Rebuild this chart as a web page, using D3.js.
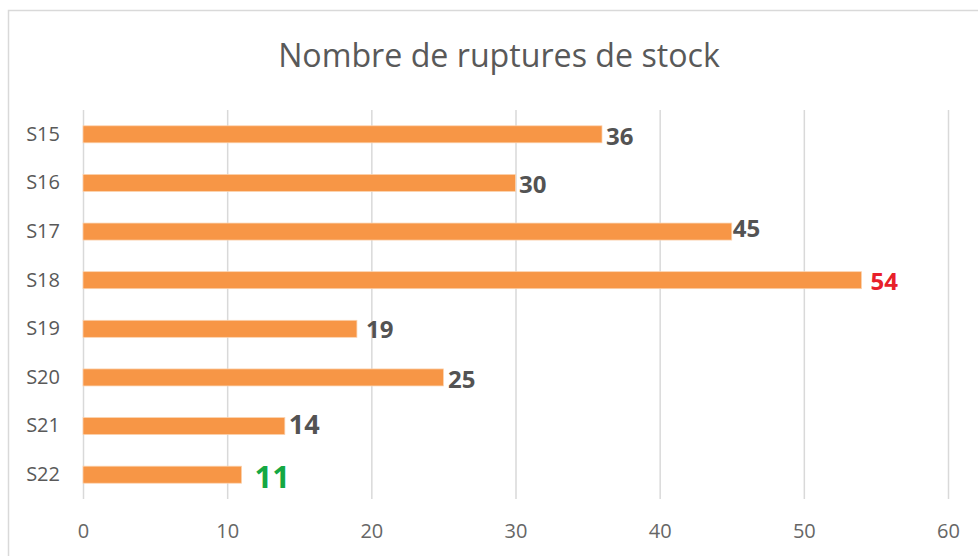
<!DOCTYPE html>
<html>
<head>
<meta charset="utf-8">
<script src="https://cdn.jsdelivr.net/npm/d3@7/dist/d3.min.js"></script>
<style>
  body { margin: 0; background: #fff; }
  svg { display: block; }
  svg text { font-family: 'Open Sans', sans-serif; }
  .grid line { stroke: #d9d9d9; stroke-width: 1.5; }
  .grid .domain { display: none; }
  .grid text { fill: #666; font-size: 20px; }
  .cats .domain, .cats line { display: none; }
  .cats text { fill: #595959; font-size: 20px; }
</style>
</head>
<body>
<svg id="chart" width="978" height="556"></svg>
<script>
// données
var weeks = ['S15', 'S16', 'S17', 'S18', 'S19', 'S20', 'S21', 'S22'];
var ruptures = [36, 30, 45, 54, 19, 25, 14, 11];
var xTicks = [0, 10, 20, 30, 40, 50, 60];
var title = 'Nombre de ruptures de stock';

// étiquettes placées à la main (comme dans Excel)
var labelStyle = {
  S15: { dx: 4, dy: 2, size: 24, color: '#535353' },
  S16: { dx: 3.5, dy: 1.5, size: 24, color: '#535353' },
  S17: { dx: 1, dy: -3.5, size: 24, color: '#535353' },
  S18: { dx: 9, dy: 1.5, size: 24, color: '#e8202a' },
  S19: { dx: 9, dy: 1, size: 24, color: '#535353' },
  S20: { dx: 4.5, dy: 2, size: 24, color: '#535353' },
  S21: { dx: 4, dy: -1.5, size: 27, color: '#535353' },
  S22: { dx: 13, dy: 2, size: 31, color: '#14a843' }
};

(function () {
  var svg = d3.select('#chart');
  var margins = { left: 83, right: 948, top: 110, bottom: 499 };

  // cadre
  svg.append('rect')
    .attr('x', 8.5).attr('y', 10.5)
    .attr('width', 1000).attr('height', 600)
    .attr('fill', 'none')
    .attr('stroke', '#d9d9d9')
    .attr('stroke-width', 1.5);

  var x = d3.scaleLinear().domain([0, 60]).range([margins.left, margins.right]);
  var y = d3.scaleBand().domain(weeks).range([margins.top, margins.bottom])
    .paddingInner(0.65).paddingOuter(0.325);

  svg.append('g')
    .attr('class', 'grid')
    .attr('transform', 'translate(0,' + margins.bottom + ')')
    .call(d3.axisBottom(x).tickValues(xTicks)
      .tickSizeInner(-(margins.bottom - margins.top)).tickSizeOuter(0).tickPadding(25));

  svg.append('g')
    .attr('class', 'cats')
    .attr('transform', 'translate(' + margins.left + ',0)')
    .call(d3.axisLeft(y).tickSize(0).tickPadding(23));

  var rows = weeks.map(function (w, i) { return { name: w, value: ruptures[i] }; });

  svg.append('g').selectAll('rect')
    .data(rows)
    .enter()
    .append('rect')
    .attr('x', x(0))
    .attr('y', function (d) { return y(d.name); })
    .attr('width', function (d) { return x(d.value) - x(0); })
    .attr('height', y.bandwidth())
    .attr('fill', '#f79646')
    .attr('stroke', '#fbd3b0')
    .attr('stroke-width', 0.75);

  svg.append('g').selectAll('text')
    .data(rows)
    .enter()
    .append('text')
    .attr('x', function (d) { return x(d.value) + labelStyle[d.name].dx; })
    .attr('y', function (d) { return y(d.name) + y.bandwidth() / 2 + labelStyle[d.name].dy; })
    .attr('dy', '0.36em')
    .attr('font-weight', 'bold')
    .attr('font-size', function (d) { return labelStyle[d.name].size; })
    .attr('fill', function (d) { return labelStyle[d.name].color; })
    .text(function (d) { return d.value; });

  // titre
  var t = svg.append('text')
    .attr('x', 499)
    .attr('y', 55)
    .attr('dy', '0.36em')
    .attr('text-anchor', 'middle')
    .attr('fill', '#595959')
    .attr('font-size', 30)
    .text(title);
  // ajuste la taille pour la largeur du titre d'origine (~442px)
  var w = t.node().getComputedTextLength();
  t.attr('font-size', 30 * 442 / w);
})();
</script>
</body>
</html>
